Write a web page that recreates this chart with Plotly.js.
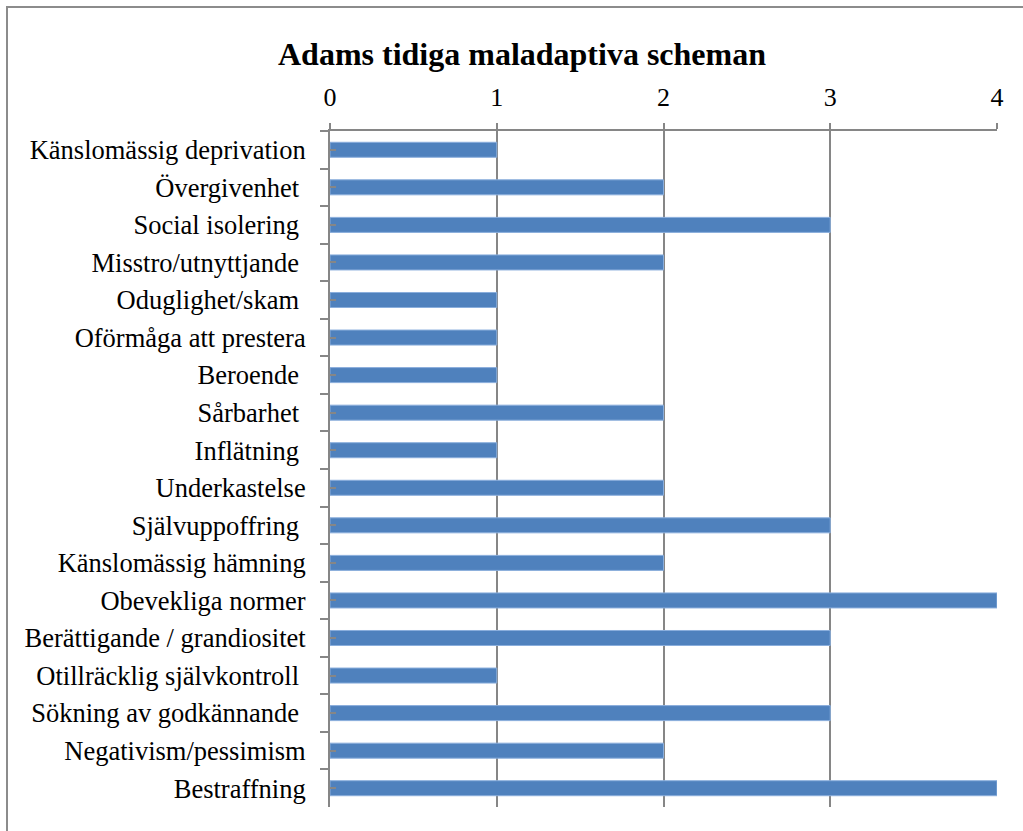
<!DOCTYPE html>
<html>
<head>
<meta charset="utf-8">
<script src="https://cdn.plot.ly/plotly-3.0.1.min.js"></script>
<style>
  html, body { margin: 0; padding: 0; background: #ffffff; overflow: hidden; }
  #frame { position: absolute; left: 6px; top: 6px; width: 1100px; height: 900px;
           border-left: 2px solid #8c8c8c; border-top: 2px solid #8c8c8c; }
  #chart { position: absolute; left: 0; top: 0; width: 1023px; height: 831px; }
</style>
</head>
<body>
<div id="frame"></div>
<div id="chart"></div>
<script>
const categories = [
  "Känslomässig deprivation",
  "Övergivenhet\u00a0",
  "Social isolering\u00a0",
  "Misstro/utnyttjande\u00a0",
  "Oduglighet/skam\u00a0",
  "Oförmåga att prestera",
  "Beroende\u00a0",
  "Sårbarhet\u00a0",
  "Inflätning\u00a0",
  "Underkastelse",
  "Självuppoffring\u00a0",
  "Känslomässig hämning",
  "Obevekliga normer",
  "Berättigande / grandiositet",
  "Otillräcklig självkontroll\u00a0",
  "Sökning av godkännande\u00a0",
  "Negativism/pessimism",
  "Bestraffning"
];
const values = [1, 2, 3, 2, 1, 1, 1, 2, 1, 2, 3, 2, 4, 3, 1, 3, 2, 4];
const xTicks = [0, 1, 2, 3, 4];
const chartTitle = "Adams tidiga maladaptiva scheman";

const axisGray = "#868686";
const serif = "'Liberation Serif', 'Times New Roman', serif";
const centerIdx = categories.map((c, i) => i);

const trace = {
  type: "bar",
  orientation: "h",
  x: values,
  y: categories,
  width: 0.4,
  marker: { color: "#4F81BD", line: { color: "#8AAEDC", width: 1 } },
  hoverinfo: "x+y"
};

const layout = {
  width: 1023,
  height: 831,
  margin: { l: 330, r: 26, t: 131, b: 24, pad: 0 },
  paper_bgcolor: "rgba(0,0,0,0)",
  plot_bgcolor: "rgba(0,0,0,0)",
  showlegend: false,
  bargap: 0.6,
  title: {
    text: "<b>" + chartTitle + "</b>",
    font: { family: serif, size: 32, color: "#000000" },
    xref: "container", x: 522 / 1023, xanchor: "center",
    yref: "container", y: 1 - 54 / 831, yanchor: "middle"
  },
  xaxis: {
    side: "top",
    range: [0, 4],
    tickvals: xTicks,
    ticktext: xTicks.map(String),
    showgrid: true,
    gridcolor: axisGray,
    gridwidth: 2,
    zeroline: false,
    showline: true,
    linecolor: axisGray,
    linewidth: 2,
    ticks: "outside",
    ticklen: 6,
    tickwidth: 2,
    tickcolor: axisGray,
    ticklabelstandoff: 7,
    tickfont: { family: serif, size: 26, color: "#000000" },
    fixedrange: true
  },
  yaxis: {
    type: "category",
    autorange: "reversed",
    tickson: "boundaries",
    ticks: "outside",
    ticklen: 8,
    tickwidth: 2,
    tickcolor: axisGray,
    showline: true,
    linecolor: axisGray,
    linewidth: 2,
    showgrid: false,
    zeroline: false,
    ticklabelstandoff: 17,
    tickfont: { family: serif, size: 26.5, color: "#000000" },
    fixedrange: true
  },
  yaxis2: {
    overlaying: "y",
    anchor: "x",
    side: "left",
    range: [categories.length - 0.5, -0.5],
    tickvals: centerIdx,
    showticklabels: false,
    ticks: "inside",
    ticklen: 6,
    tickwidth: 2,
    tickcolor: axisGray,
    showgrid: false,
    zeroline: false,
    showline: false,
    fixedrange: true
  }
};

const helper = {
  type: "scatter",
  mode: "markers",
  x: [null],
  y: [null],
  yaxis: "y2",
  hoverinfo: "skip",
  showlegend: false
};

Plotly.newPlot("chart", [trace, helper], layout, { displayModeBar: false, staticPlot: true });
</script>
</body>
</html>
